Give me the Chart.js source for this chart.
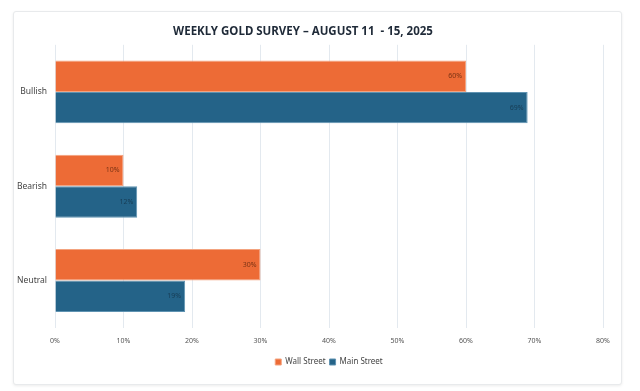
<!DOCTYPE html>
<html>
<head>
<meta charset="utf-8">
<script src="https://cdn.jsdelivr.net/npm/chart.js@4.4.0/dist/chart.umd.min.js"></script>
<style>
  html, body { margin: 0; padding: 0; background: #ffffff; }
  #wrap { position: relative; width: 640px; height: 391px; }
  #card {
    position: absolute; left: 13px; top: 11px; width: 607px; height: 372px;
    border: 1px solid #e8eaec; border-radius: 3px;
    box-shadow: 0 1px 3px rgba(0,0,0,0.08);
    background: #fff;
  }
  #surveyChart { position: absolute; left: 0; top: 0; }
</style>
</head>
<body>
<div id="wrap">
  <div id="card"></div>
  <canvas id="surveyChart" width="640" height="391"></canvas>
</div>
<script>
const categories = ['Bullish', 'Bearish', 'Neutral'];
const wallStreet = [60, 10, 30];
const mainStreet = [69, 12, 19];
const xTicks = [0, 10, 20, 30, 40, 50, 60, 70, 80];

const ctx = document.getElementById('surveyChart').getContext('2d');

// small value labels drawn just inside the end of each bar
const barLabels = {
  id: 'barLabels',
  afterDatasetsDraw(chart) {
    const c = chart.ctx;
    c.save();
    c.font = '7px "Noto Sans", sans-serif';
    c.textAlign = 'right';
    c.textBaseline = 'middle';
    chart.data.datasets.forEach((ds, i) => {
      chart.getDatasetMeta(i).data.forEach((bar, j) => {
        c.fillStyle = i === 0 ? '#7a3314' : '#173d55';
        c.fillText(ds.data[j] + '%', bar.x - 4, bar.y);
      });
    });
    c.restore();
  }
};

new Chart(ctx, {
  type: 'bar',
  data: {
    labels: categories,
    datasets: [
      {
        label: 'Wall Street',
        data: wallStreet,
        backgroundColor: '#ed6b36',
        borderColor: '#f3a37f',
        borderWidth: 1
      },
      {
        label: 'Main Street',
        data: mainStreet,
        backgroundColor: '#246388',
        borderColor: '#5f93b2',
        borderWidth: 1
      }
    ]
  },
  options: {
    indexAxis: 'y',
    responsive: false,
    animation: false,
    layout: { padding: { left: 3, right: 37, top: 24, bottom: 15 } },
    datasets: {
      bar: { categoryPercentage: 0.667, barPercentage: 1 }
    },
    scales: {
      x: {
        min: 0,
        max: 80,
        afterBuildTicks: axis => { axis.ticks = xTicks.map(v => ({ value: v })); },
        ticks: {
          callback: v => v + '%',
          font: { size: 7, family: '"Noto Sans", sans-serif' },
          color: '#555',
          padding: 9
        },
        grid: { color: '#e3e9ef', drawTicks: false },
        border: { display: false }
      },
      y: {
        afterFit: axis => { axis.width = 52; },
        ticks: {
          font: { size: 8.5, family: '"Noto Sans", sans-serif' },
          color: '#444',
          padding: 8
        },
        grid: { display: false, drawTicks: false },
        border: { display: false }
      }
    },
    plugins: {
      title: {
        display: true,
        text: 'WEEKLY GOLD SURVEY \u2013 AUGUST 11  - 15, 2025',
        color: '#1f2a38',
        font: { size: 11.5, weight: 'bold', family: '"Noto Sans", sans-serif' },
        padding: { top: 1, bottom: 6 }
      },
      legend: {
        position: 'bottom',
        fullSize: false,
        labels: {
          boxWidth: 6,
          boxHeight: 6,
          color: '#444',
          font: { size: 8, family: '"Noto Sans", sans-serif' },
          padding: 4
        }
      },
      tooltip: { enabled: false }
    }
  },
  plugins: [barLabels]
});
</script>
</body>
</html>
